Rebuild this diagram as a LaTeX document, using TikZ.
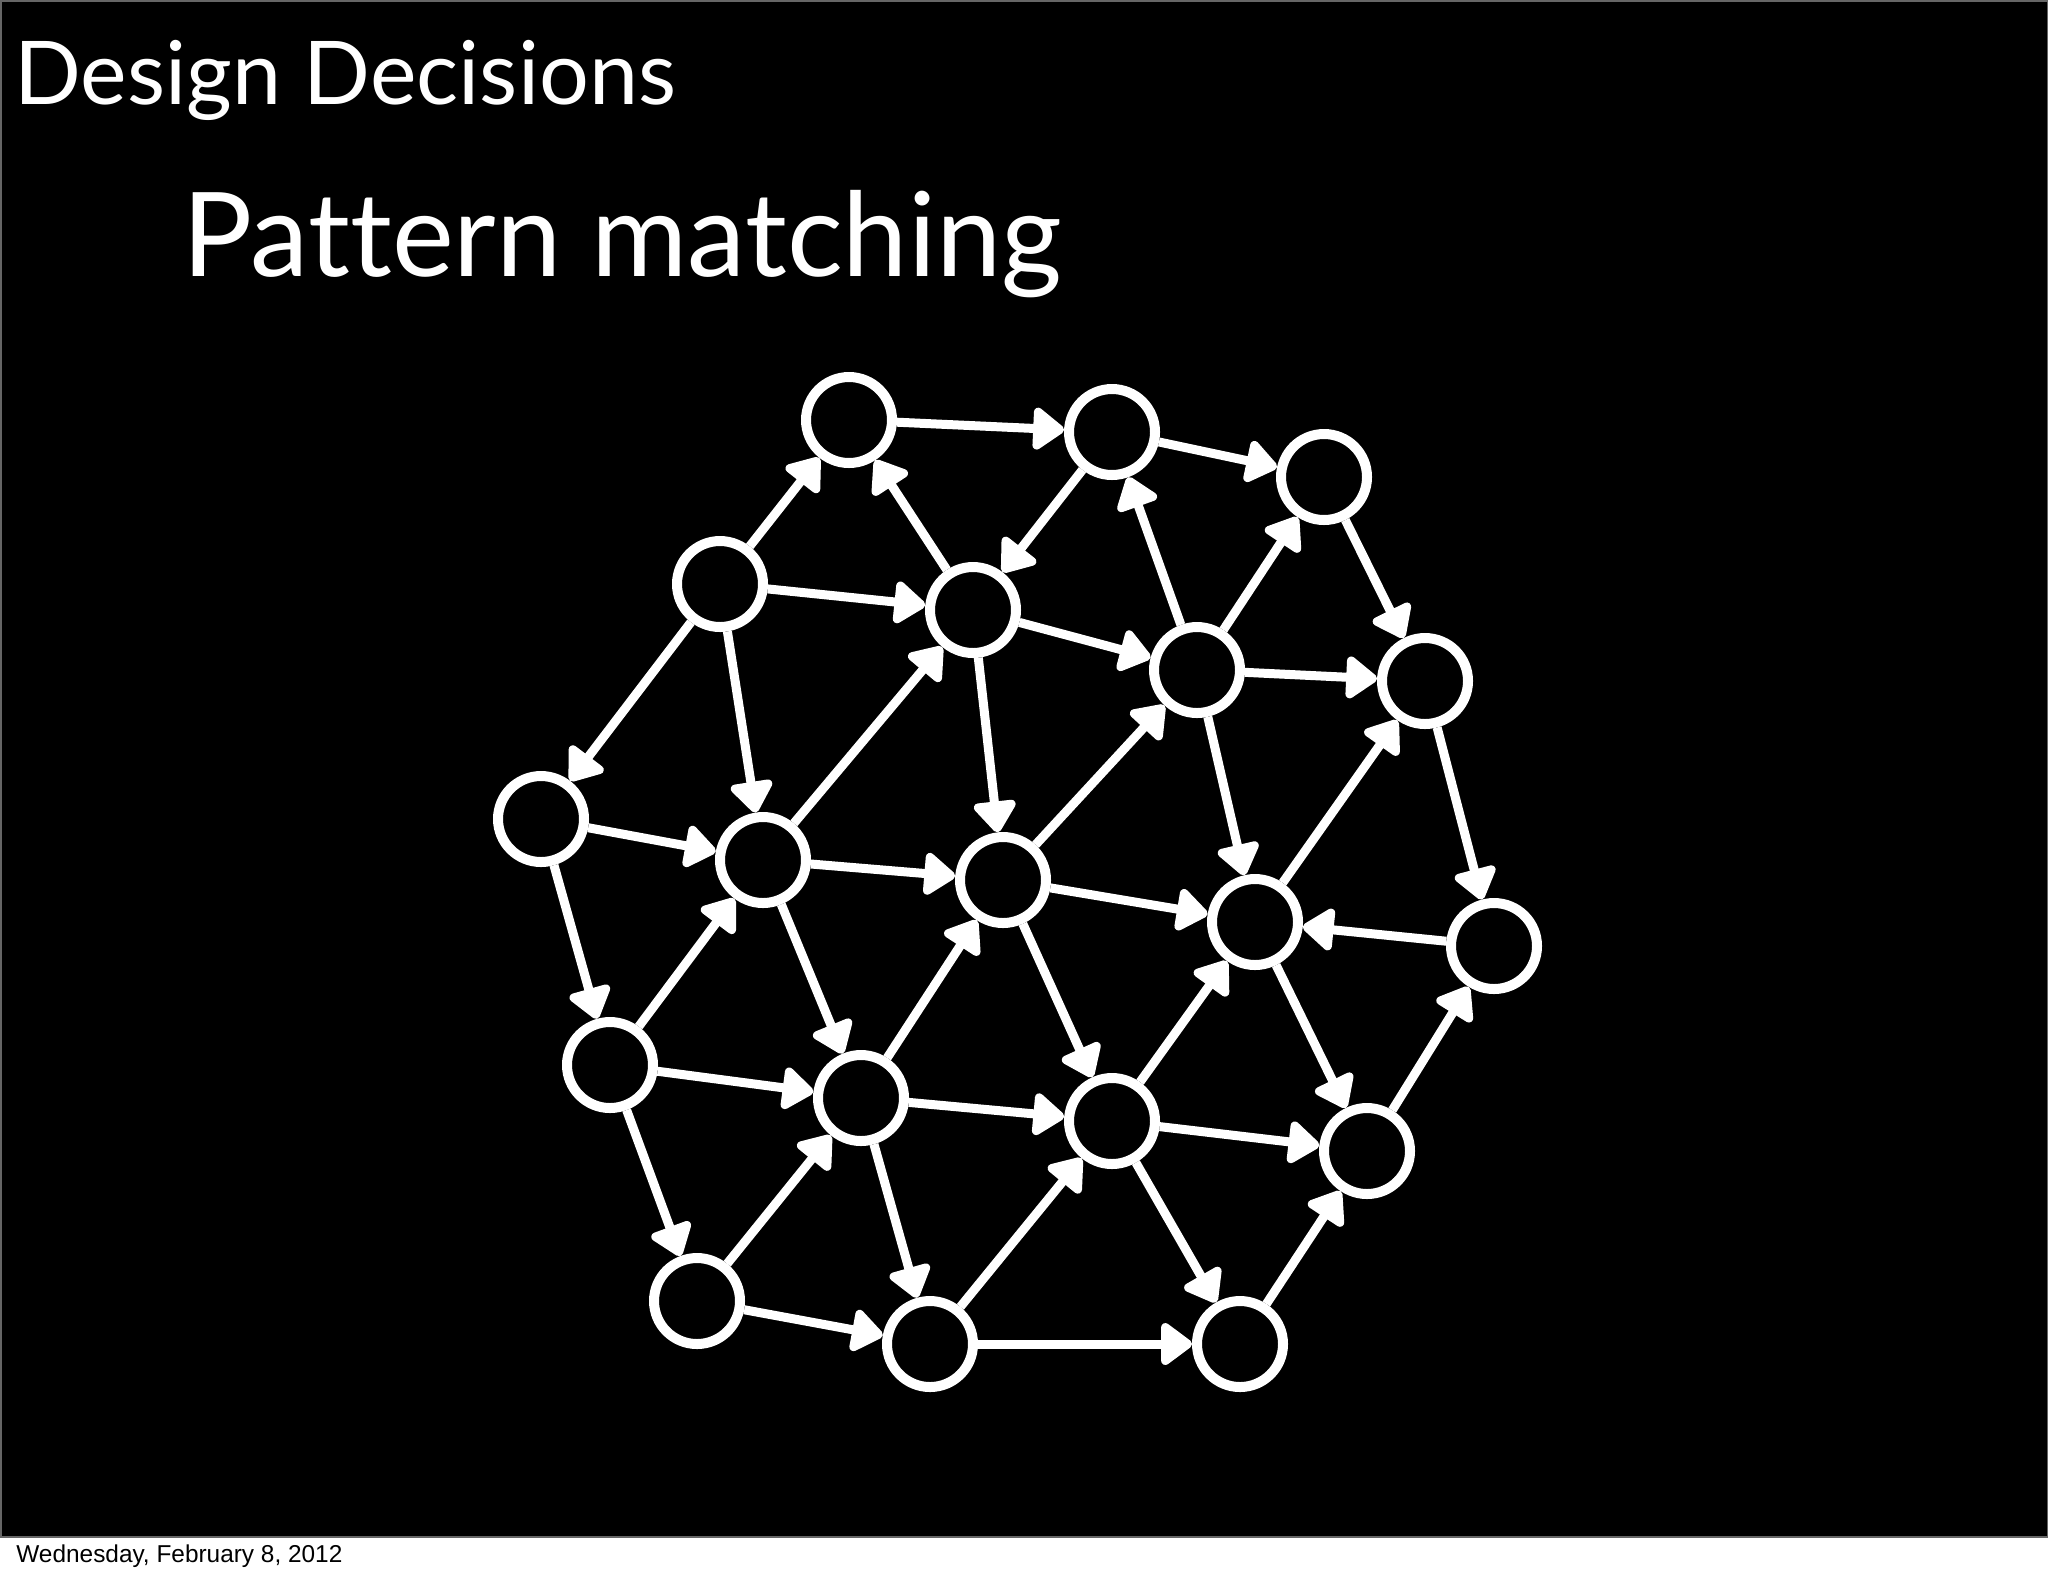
\documentclass[tikz,border=0pt]{standalone}
\usepackage{fontspec}
\setmainfont{Lato}[Ligatures=NoCommon]
\newfontfamily\footfont{Liberation Sans}
\usetikzlibrary{arrows.meta}
\begin{document}
\begin{tikzpicture}[x=0.5pt,y=-0.5pt,
  vert/.style={circle,draw=white,line width=5pt,fill=black,minimum size=43pt,inner sep=0pt},
  edge/.style={draw=white,line width=4.5pt,-{Triangle[length=17pt,width=24pt,round]}},
  slidetext/.style={anchor=base west,inner sep=0pt,text=white}]
\useasboundingbox (0,0) rectangle (2048,1576);
\fill[white] (0,0) rectangle (2048,1576);
\filldraw[fill=black,draw=black!60,line width=1pt] (0.5,0.5) rectangle (2047.5,1537);
\node[slidetext,font=\fontsize{44pt}{48pt}\selectfont] (t1) at (14,104) {Design Decisions};
\node[slidetext,font=\fontsize{58.5pt}{62pt}\selectfont] (t2) at (182,276) {Pattern matching};
\node[anchor=base west,inner sep=0pt,text=black,font=\footfont\fontsize{12.2pt}{14pt}\selectfont] (t3) at (16,1562) {Wednesday, February 8, 2012};
% vertices
\node[vert] (A) at (849,420) {};
\node[vert] (B) at (1112,432) {};
\node[vert] (C) at (1324,477) {};
\node[vert] (D) at (720,584) {};
\node[vert] (E) at (973,610) {};
\node[vert] (F) at (1197,670) {};
\node[vert] (G) at (1425,681) {};
\node[vert] (H) at (541,819) {};
\node[vert] (I) at (763,860) {};
\node[vert] (J) at (1003,880) {};
\node[vert] (K) at (1255,922) {};
\node[vert] (L) at (1494,946) {};
\node[vert] (M) at (610,1065) {};
\node[vert] (N) at (861,1098) {};
\node[vert] (O) at (1112,1121) {};
\node[vert] (P) at (1367,1151) {};
\node[vert] (Q) at (697,1301) {};
\node[vert] (R) at (930,1344) {};
\node[vert] (S) at (1240,1344) {};
% edges
\foreach \a/\b in {A/B,B/C,D/A,E/A,B/E,F/B,F/C,C/G,D/E,E/F,F/G,D/H,D/I,I/E,E/J,J/F,F/K,K/G,G/L,H/I,I/J,J/K,L/K,H/M,M/I,I/N,N/J,J/O,O/K,K/P,P/L,M/N,N/O,O/P,M/Q,Q/N,N/R,R/O,O/S,S/P,Q/R,R/S}
  \draw[edge] (\a) -- (\b);
\end{tikzpicture}
\end{document}
